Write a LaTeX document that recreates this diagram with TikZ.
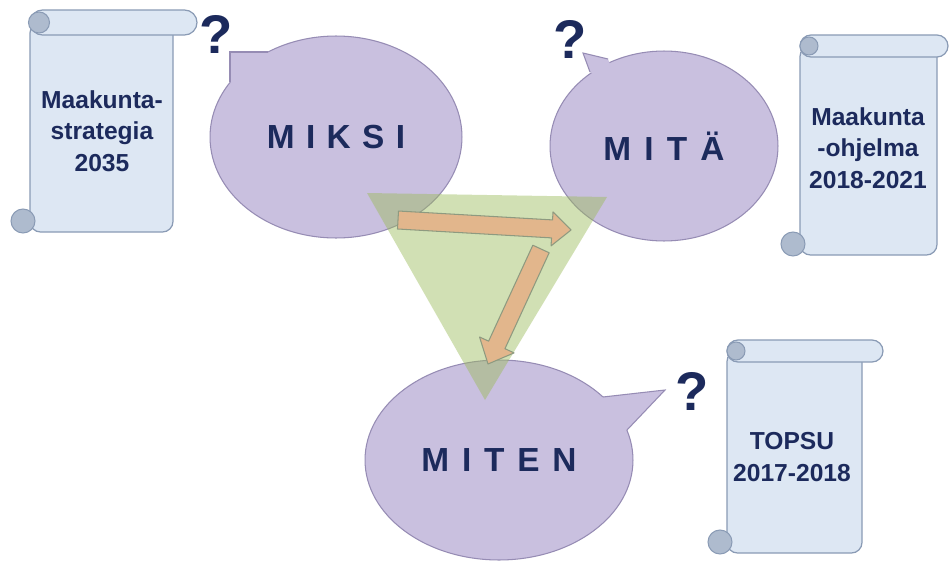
\documentclass[tikz,border=0pt]{standalone}
\usepackage{fontspec}
\setmainfont{Liberation Sans}
\usetikzlibrary{calc,shapes.geometric}
\definecolor{navy}{HTML}{1C2A5C}
\definecolor{lav}{HTML}{C9C0DF}
\definecolor{lavline}{HTML}{968CB4}
\definecolor{paper}{HTML}{DDE7F3}
\definecolor{paperline}{HTML}{8A9BB5}
\definecolor{curlc}{HTML}{AEBBCE}
\definecolor{tri}{HTML}{9BBB59}
\definecolor{arr}{HTML}{E2B68C}
\definecolor{arrline}{HTML}{8E9A80}
\tikzset{
  scrollsty/.style={fill=paper, draw=paperline, line width=0.7pt},
  curlsty/.style={fill=curlc, draw=paperline, line width=0.6pt},
  bubble/.style={ellipse, fill=lav, draw=lavline, line width=0.6pt, inner sep=0pt, text=navy,
    font=\bfseries\fontsize{19}{21}\selectfont},
  tailfill/.style={fill=lav},
  tailline/.style={draw=lavline, line width=0.6pt},
  scrolltext/.style={align=center, text=navy, font=\bfseries\fontsize{14}{17.8}\selectfont},
  qmark/.style={text=navy, font=\bfseries\fontsize{31}{33}\selectfont, inner sep=0pt},
  arrowsty/.style={fill=arr, draw=arrline, line width=0.6pt, line join=round},
}
\newcommand\scrollshape[7]{% L T R B rollR rollH radius
  \filldraw[scrollsty, rounded corners=6pt] (#1,#2+#6/2) rectangle (#3,#4);
  \filldraw[scrollsty, rounded corners=#7] (#1,#2) rectangle (#5,#2+#6);
  \filldraw[curlsty] (#1+9,#2+#6/2) circle [radius=#6/2-2];
  \filldraw[curlsty] (#1-7,#4-11) circle [radius=12];
}
\newcommand\blockarrow[5]{% from, to, shaft half, head half, head length
  \coordinate (bah) at ($(#2)!#5!(#1)$);
  \filldraw[arrowsty] ($(#1)!#3!90:(#2)$) -- ($(bah)!#3!-90:(#1)$) -- ($(bah)!#4!-90:(#1)$) -- (#2)
     -- ($(bah)!#4!90:(#1)$) -- ($(bah)!#3!90:(#1)$) -- ($(#1)!#3!-90:(#2)$) -- cycle;
}
\begin{document}
\begin{tikzpicture}[x=0.02cm,y=-0.02cm]
\useasboundingbox (0,0) rectangle (950,561);
\fill[white] (0,0) rectangle (950,561);

% scrolls
\scrollshape{30}{10}{173}{232}{197}{25}{0.25cm}
\node[scrolltext] (s1) at (102,131) {Maakunta-\\strategia\\2035};
\scrollshape{800}{35}{937}{255}{948}{22}{0.22cm}
\node[scrolltext] (s2) at (868,148) {Maakunta\\-ohjelma\\2018-2021};
\scrollshape{727}{340}{862}{553}{883}{22}{0.22cm}
\node[scrolltext] (s3) at (792,457) {TOPSU\\2017-2018};

% bubbles
\node[bubble, minimum width=5.04cm, minimum height=4.04cm] (miksi) at (336,137)
  {M\kern6.5pt I\kern6.5pt K\kern6.5pt S\kern6.5pt I};
\fill[tailfill] (230,52) -- (268,52) -- (282,100) -- (230,82) -- cycle;
\draw[tailline] (268,52) -- (230,52) -- (230,82);

\node[bubble, minimum width=4.56cm, minimum height=3.8cm] (mita) at (664,146)
  {M\kern7.5pt I\kern7.5pt T\kern7.5pt Ä};
\fill[tailfill] (583,53) -- (608,59) -- (620,90) -- (590,72) -- cycle;
\draw[tailline] (608,59) -- (583,53) -- (590,72);

\node[bubble, minimum width=5.36cm, minimum height=4cm] (miten) at (499,460)
  {M\kern7.3pt I\kern7.3pt T\kern7.3pt E\kern7.3pt N};
\fill[tailfill] (665,390) -- (603,397) -- (580,420) -- (627,430) -- cycle;
\draw[tailline] (603,397) -- (665,390) -- (627,430);

% question marks
\node[qmark] (q1) at (216,34) {?};
\node[qmark] (q2) at (570,39) {?};
\node[qmark] (q3) at (692,391) {?};

% triangle
\coordinate (t1) at (367,193);
\coordinate (t2) at (607,197);
\coordinate (t3) at (485,400);
\fill[tri, opacity=0.45] (t1) -- (t2) -- (t3) -- cycle;

% arrows
\coordinate (a1s) at (398,220);
\coordinate (a1e) at (571,230);
\coordinate (a2s) at (541,249);
\coordinate (a2e) at (488,364);
\blockarrow{a1s}{a1e}{0.18cm}{0.34cm}{0.38cm}
\blockarrow{a2s}{a2e}{0.18cm}{0.38cm}{0.42cm}
\end{tikzpicture}
\end{document}
